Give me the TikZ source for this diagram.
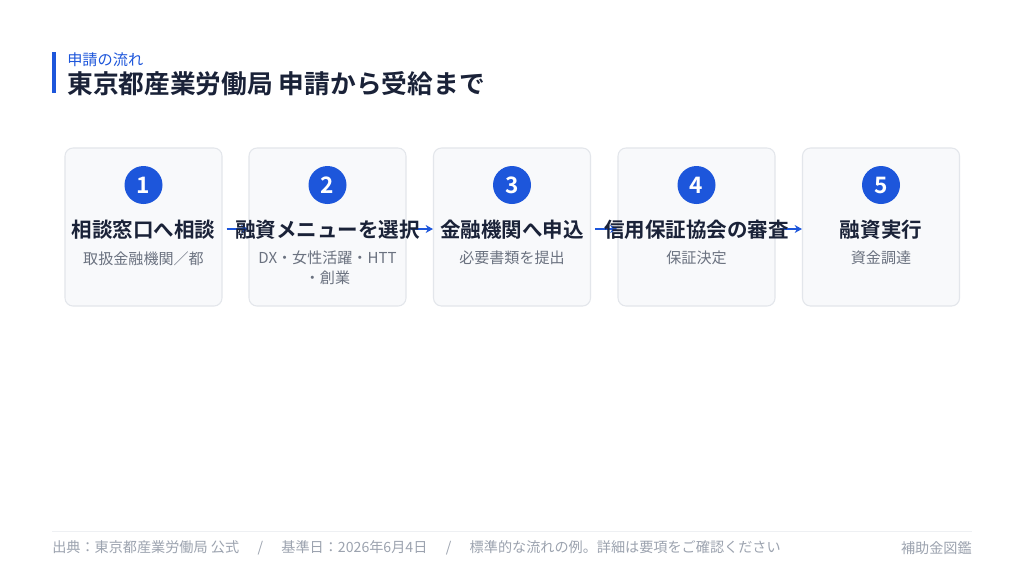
\documentclass[tikz,border=0pt]{standalone}
\usepackage{fontspec}
\setmainfont{Noto Sans CJK JP}[BoldFont={Noto Sans CJK JP Bold}]
\usetikzlibrary{arrows.meta}
\definecolor{accent}{HTML}{1D56DB}
\definecolor{ink}{HTML}{1A2238}
\definecolor{subgray}{HTML}{6B7280}
\definecolor{footgray}{HTML}{9CA3AF}
\definecolor{cardfill}{HTML}{F8F9FB}
\definecolor{cardline}{HTML}{E3E6EB}
\definecolor{rulegray}{HTML}{EEF0F3}
\tikzset{
  card/.style={draw=cardline, fill=cardfill, rounded corners=6pt, line width=0.8pt,
    minimum width=117.75pt, minimum height=118.5pt, inner sep=0pt},
  num/.style={circle, fill=accent, text=white, minimum size=28.5pt, inner sep=0pt,
    font=\bfseries\fontsize{17pt}{17pt}\selectfont},
  steptitle/.style={text=ink, font=\bfseries\fontsize{15.4pt}{18pt}\selectfont, inner sep=0pt},
  stepsub/.style={text=subgray, font=\fontsize{11.3pt}{15pt}\selectfont, inner sep=0pt, align=center, anchor=north},
  flow/.style={draw=accent, line width=1.5pt, -{Stealth[length=5.5pt,width=6pt]}},
  foot/.style={text=footgray, font=\fontsize{10.6pt}{12pt}\selectfont, inner sep=0pt},
}
\begin{document}
\begin{tikzpicture}[x=0.75pt,y=-0.75pt]
\useasboundingbox (0,0) rectangle (1024,576);
\fill[white] (0,0) rectangle (1024,576);
% header
\fill[accent] (52,52) rectangle (56,93);
\node[anchor=west, text=accent, font=\fontsize{11.4pt}{12pt}\selectfont, inner sep=0pt] (sub) at (67,60) {申請の流れ};
\node[anchor=west, text=ink, font=\bfseries\fontsize{19.3pt}{21pt}\selectfont, inner sep=0pt] (title) at (67,84) {東京都産業労働局 申請から受給まで};
% cards
\node[card] (c1) at (143.5,227) {};
\node[card] (c2) at (327.5,227) {};
\node[card] (c3) at (512,227) {};
\node[card] (c4) at (696.5,227) {};
\node[card] (c5) at (881,227) {};
% arrows
\draw[flow] ([yshift=-1.5pt,xshift=3pt]c1.east) -- ([yshift=-1.5pt]c2.west);
\draw[flow] ([yshift=-1.5pt,xshift=3pt]c2.east) -- ([yshift=-1.5pt]c3.west);
\draw[flow] ([yshift=-1.5pt,xshift=3pt]c3.east) -- ([yshift=-1.5pt]c4.west);
\draw[flow] ([yshift=-1.5pt,xshift=3pt]c4.east) -- ([yshift=-1.5pt]c5.west);
% numbers
\node[num] (n1) at (143.5,185) {1};
\node[num] (n2) at (327.5,185) {2};
\node[num] (n3) at (512,185) {3};
\node[num] (n4) at (696.5,185) {4};
\node[num] (n5) at (881,185) {5};
% titles
\node[steptitle] (t1) at (143.5,230) {相談窓口へ相談};
\node[steptitle] (t2) at (327.5,230) {融資メニューを選択};
\node[steptitle] (t3) at (512,230) {金融機関へ申込};
\node[steptitle] (t4) at (696.5,230) {信用保証協会の審査};
\node[steptitle] (t5) at (881,230) {融資実行};
% subs
\node[stepsub] (s1) at (143.5,251) {取扱金融機関／都};
\node[stepsub] (s2) at (327.5,251) {DX・女性活躍・HTT\\・創業};
\node[stepsub] (s3) at (512,251) {必要書類を提出};
\node[stepsub] (s4) at (696.5,251) {保証決定};
\node[stepsub] (s5) at (881,251) {資金調達};
% footer
\draw[rulegray, line width=0.7pt] (52,531) -- (972,531);
\node[foot, anchor=west] (src) at (52,548) {出典：東京都産業労働局 公式\hspace{1.3em}/\hspace{1.3em}基準日：2026年6月4日\hspace{1.3em}/\hspace{1.3em}標準的な流れの例。詳細は要項をご確認ください};
\node[foot, anchor=east] (brand) at (972,548) {補助金図鑑};
\end{tikzpicture}
\end{document}
